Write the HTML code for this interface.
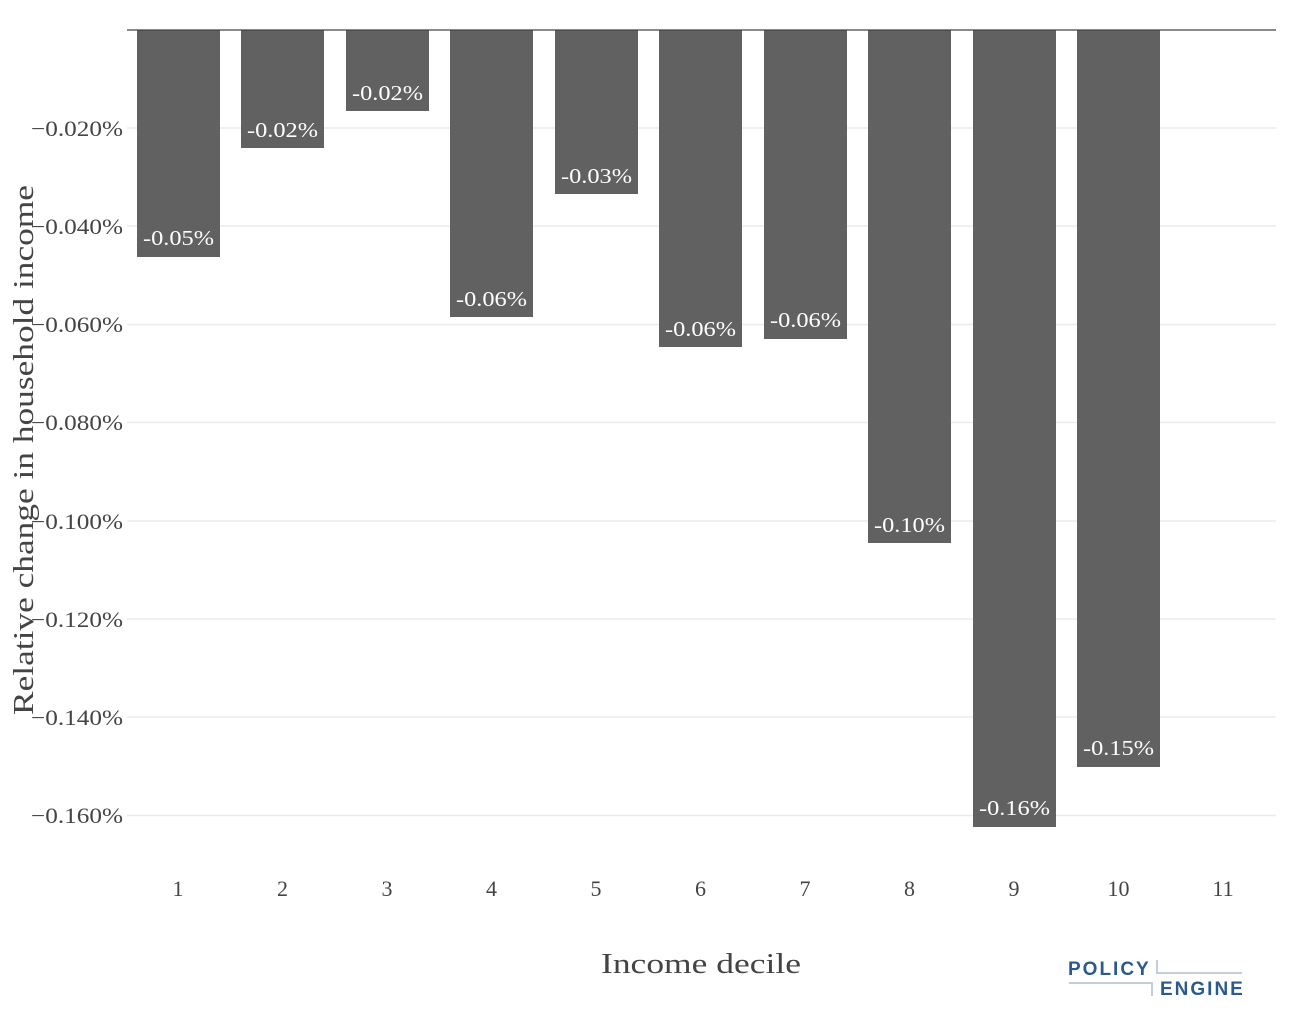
<!DOCTYPE html>
<html><head><meta charset="utf-8"><style>
body{margin:0;background:#fff;}
svg{display:block;font-family:"Liberation Serif",serif;}
</style></head><body>
<svg width="1296" height="1020" xmlns="http://www.w3.org/2000/svg">
<g stroke="#ebebeb" stroke-width="1.5">
<line x1="127" x2="1276" y1="128" y2="128"/><line x1="127" x2="1276" y1="226" y2="226"/>
<line x1="127" x2="1276" y1="324.5" y2="324.5"/><line x1="127" x2="1276" y1="422.5" y2="422.5"/>
<line x1="127" x2="1276" y1="521" y2="521"/><line x1="127" x2="1276" y1="619" y2="619"/>
<line x1="127" x2="1276" y1="717" y2="717"/><line x1="127" x2="1276" y1="815.5" y2="815.5"/>
</g>
<g fill="#616161">
<rect x="137" y="30" width="83" height="227"/>
<rect x="241" y="30" width="83" height="118"/>
<rect x="346" y="30" width="83" height="81"/>
<rect x="450" y="30" width="83" height="287"/>
<rect x="555" y="30" width="83" height="164"/>
<rect x="659" y="30" width="83" height="317"/>
<rect x="764" y="30" width="83" height="309"/>
<rect x="868" y="30" width="83" height="513"/>
<rect x="973" y="30" width="83" height="797"/>
<rect x="1077" y="30" width="83" height="737"/>
</g>
<line x1="127" x2="1276" y1="30" y2="30" stroke="#444" stroke-width="1.2"/>
<g fill="#fff" font-size="21" text-anchor="middle">
<text x="178.5" y="245" textLength="71" lengthAdjust="spacingAndGlyphs">-0.05%</text>
<text x="282.5" y="137" textLength="71" lengthAdjust="spacingAndGlyphs">-0.02%</text>
<text x="387.5" y="100" textLength="71" lengthAdjust="spacingAndGlyphs">-0.02%</text>
<text x="491.5" y="306" textLength="71" lengthAdjust="spacingAndGlyphs">-0.06%</text>
<text x="596.5" y="183" textLength="71" lengthAdjust="spacingAndGlyphs">-0.03%</text>
<text x="700.5" y="336" textLength="71" lengthAdjust="spacingAndGlyphs">-0.06%</text>
<text x="805.5" y="327" textLength="71" lengthAdjust="spacingAndGlyphs">-0.06%</text>
<text x="909.5" y="532" textLength="71" lengthAdjust="spacingAndGlyphs">-0.10%</text>
<text x="1014.5" y="815" textLength="71" lengthAdjust="spacingAndGlyphs">-0.16%</text>
<text x="1118.5" y="755" textLength="71" lengthAdjust="spacingAndGlyphs">-0.15%</text>
</g>
<g fill="#444" font-size="22" text-anchor="end">
<text x="123" y="136" textLength="92" lengthAdjust="spacingAndGlyphs">−0.020%</text><text x="123" y="234" textLength="92" lengthAdjust="spacingAndGlyphs">−0.040%</text>
<text x="123" y="332" textLength="92" lengthAdjust="spacingAndGlyphs">−0.060%</text><text x="123" y="430" textLength="92" lengthAdjust="spacingAndGlyphs">−0.080%</text>
<text x="123" y="529" textLength="92" lengthAdjust="spacingAndGlyphs">−0.100%</text><text x="123" y="627" textLength="92" lengthAdjust="spacingAndGlyphs">−0.120%</text>
<text x="123" y="725" textLength="92" lengthAdjust="spacingAndGlyphs">−0.140%</text><text x="123" y="823" textLength="92" lengthAdjust="spacingAndGlyphs">−0.160%</text>
</g>
<g fill="#444" font-size="22" text-anchor="middle">
<text x="178" y="896">1</text><text x="282.5" y="896">2</text><text x="387" y="896">3</text>
<text x="491.5" y="896">4</text><text x="596" y="896">5</text><text x="700.5" y="896">6</text>
<text x="805" y="896">7</text><text x="909.5" y="896">8</text><text x="1014" y="896">9</text>
<text x="1118.5" y="896">10</text><text x="1223" y="896">11</text>
</g>
<text x="701" y="973" font-size="29" fill="#444" text-anchor="middle" textLength="200" lengthAdjust="spacingAndGlyphs">Income decile</text>
<text transform="translate(33,450) rotate(-90)" font-size="29" fill="#444" text-anchor="middle" textLength="530" lengthAdjust="spacingAndGlyphs">Relative change in household income</text>
<g font-family="Liberation Sans,sans-serif" font-weight="bold" font-size="19" fill="#2c5a8c" letter-spacing="2">
<text x="1068" y="975">POLICY</text>
<text x="1160" y="995">ENGINE</text>
</g>
<g stroke="#c3cedb" stroke-width="2" fill="none">
<polyline points="1157,960 1157,973 1242,973"/>
<polyline points="1069,983 1152,983 1152,996"/>
</g>
</svg>
</body></html>
